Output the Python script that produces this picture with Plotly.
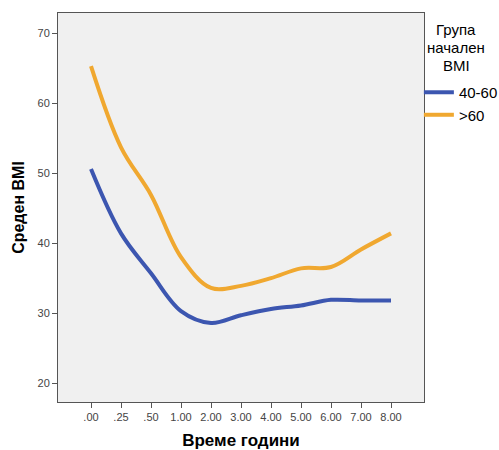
import plotly.graph_objects as go

# Time points (years) and mean BMI per starting-BMI group
time_labels = [".00", ".25", ".50", "1.00", "2.00", "3.00", "4.00", "5.00", "6.00", "7.00", "8.00"]
bmi_40_60 = [50.6, 41.4, 35.7, 30.3, 28.6, 29.7, 30.6, 31.1, 31.9, 31.8, 31.8]
bmi_over_60 = [65.3, 53.7, 46.9, 38.0, 33.6, 33.9, 35.0, 36.4, 36.6, 39.1, 41.4]
group_names = ["40-60", ">60"]
legend_title_lines = ["Група", "начален", "BMI"]

fig = go.Figure()
fig.add_trace(go.Scatter(
    x=time_labels, y=bmi_40_60, name=group_names[0], mode="lines",
    line=dict(color="#3c56b0", width=4, shape="spline", smoothing=1.0),
))
fig.add_trace(go.Scatter(
    x=time_labels, y=bmi_over_60, name=group_names[1], mode="lines",
    line=dict(color="#f0a830", width=4, shape="spline", smoothing=1.0),
))

# Centered legend heading, one line per annotation for tight spacing
plot_top, plot_h = 13, 389
for i, line in enumerate(legend_title_lines):
    y_px = 30 + i * 17.5
    fig.add_annotation(
        text=line, xref="paper", yref="paper",
        x=1.0 + (456 - 424) / 366, y=1.0 - (y_px - plot_top) / plot_h,
        xanchor="center", yanchor="middle",
        showarrow=False, align="center",
        font=dict(size=15, color="#000"),
    )

fig.update_layout(
    width=499, height=450,
    margin=dict(l=58, r=75, t=13, b=48, autoexpand=False),
    paper_bgcolor="white",
    plot_bgcolor="#f0f0f0",
    font=dict(family="Arial, Liberation Sans, sans-serif", color="#000"),
    showlegend=True,
    legend=dict(
        x=0.986, xanchor="left", y=0.838, yanchor="top",
        font=dict(size=15, color="#000"),
        bgcolor="rgba(0,0,0,0)",
        itemwidth=30,
        tracegroupgap=0,
    ),
    xaxis=dict(
        type="category",
        range=[-1.1, 11.1],
        showgrid=False, zeroline=False,
        showline=True, linecolor="#555", linewidth=1, mirror=True,
        ticks="outside", ticklen=5, tickcolor="#555",
        tickfont=dict(size=11, color="#444"),
        title=dict(text="<b>Време години</b>", font=dict(size=17, color="#000"), standoff=12),
    ),
    yaxis=dict(
        range=[17.3, 72.9],
        tickvals=[20, 30, 40, 50, 60, 70],
        showgrid=False, zeroline=False,
        showline=True, linecolor="#555", linewidth=1, mirror=True,
        ticks="outside", ticklen=5, tickcolor="#555",
        tickfont=dict(size=11, color="#444"),
        title=dict(text="<b>Среден BMI</b>", font=dict(size=16, color="#000"), standoff=8),
    ),
)

fig.write_html("out.html")
